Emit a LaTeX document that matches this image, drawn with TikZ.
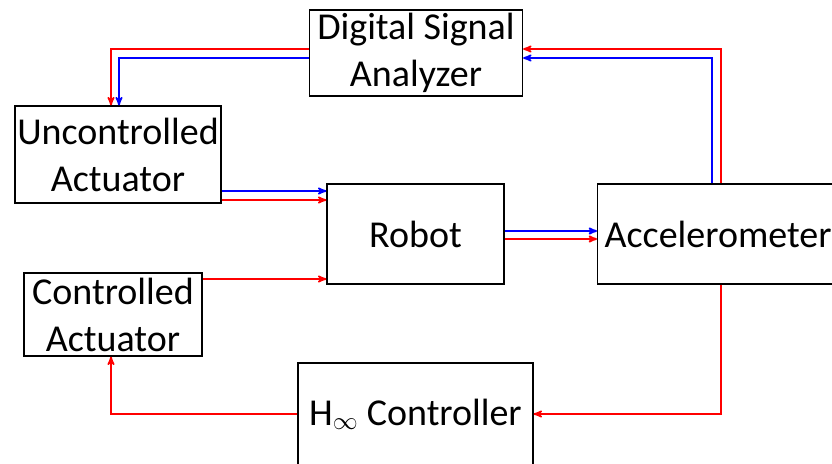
\documentclass[tikz,border=0pt]{standalone}
\usepackage{fontspec}
\setmainfont{Carlito}
\usetikzlibrary{positioning,arrows,calc}

\tikzset{
  box/.style={draw, line width=1.3pt, align=center, inner sep=0pt,
    font=\fontsize{38}{47}\selectfont},
  sig/.style={line width=1.8pt, ->},
  redsig/.style={sig, draw=red},
  bluesig/.style={sig, draw=blue}
}

\begin{document}
\begin{tikzpicture}[x=1pt,y=-1pt,>=stealth']
    \useasboundingbox (0,0) rectangle (832,463);
    \clip (0,0) rectangle (832,463);

    \draw (416,53) node[box, minimum width=213pt, minimum height=86pt] (dsa) {Digital Signal\\Analyzer} ;
    \draw (118,154.5) node[box, minimum width=206pt, minimum height=97pt] (ua) {Uncontrolled\\Actuator} ;
    \draw (415.5,234) node[box, minimum width=177pt, minimum height=100pt] (robot) {Robot} ;
    \draw (597,234) node[box, anchor=west, minimum width=270pt, minimum height=100pt,
      inner xsep=7pt, text width=256pt, align=left] (acc) {Accelerometer} ;
    \draw (113,314.5) node[box, minimum width=178pt, minimum height=83pt] (ca) {Controlled\\Actuator} ;
    \draw (415.5,414) node[box, minimum width=235pt, minimum height=102pt] (hinf) {H$_\infty$ Controller} ;

    \draw[redsig]  ([yshift=4pt]dsa.west)  -| ([xshift=-7pt]ua.north);
    \draw[bluesig] ([yshift=-5pt]dsa.west) -| ([xshift=1pt]ua.north);

    \draw[bluesig] ([yshift=-36.5pt]ua.east) -- ([yshift=43pt]robot.west);
    \draw[redsig]  ([yshift=-45.5pt]ua.east) -- ([yshift=34pt]robot.west);

    \draw[redsig]  ([yshift=35.5pt]ca.east) -- ([yshift=-45pt]robot.west);

    \draw[bluesig] ([yshift=3pt]robot.east)  -- ([yshift=3pt]acc.west);
    \draw[redsig]  ([yshift=-5pt]robot.east) -- ([yshift=-5pt]acc.west);

    \draw[redsig]  ([xshift=124pt]acc.north west) |- ([yshift=4pt]dsa.east);
    \draw[bluesig] ([xshift=115pt]acc.north west) |- ([yshift=-5pt]dsa.east);

    \draw[redsig]  ([xshift=124pt]acc.south west) |- (hinf.east);
    \draw[redsig]  (hinf.west) -| ([xshift=-2pt]ca.south);
  \end{tikzpicture}
\end{document}
